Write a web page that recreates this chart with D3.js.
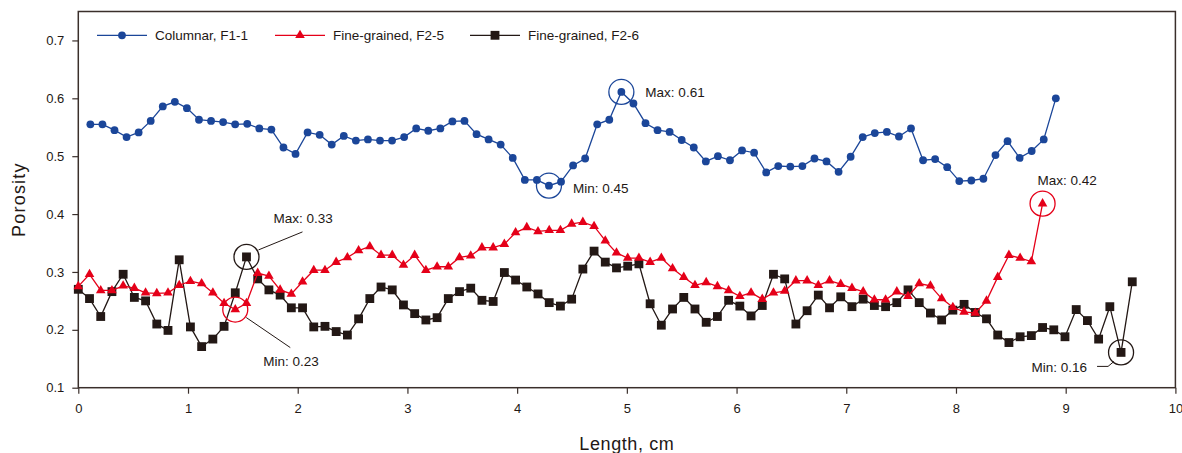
<!DOCTYPE html>
<html>
<head>
<meta charset="utf-8">
<script src="https://cdn.jsdelivr.net/npm/d3@7"></script>
<style>
  body { margin: 0; background: #fff; }
  text { font-family: "Liberation Sans", Arial, sans-serif; fill: #231815; }
</style>
</head>
<body>
<svg id="chart" width="1182" height="453"></svg>
<script>
// porosity, one value per sample
const columnarF11 = [
  0.555, 0.555, 0.545, 0.533, 0.541, 0.561, 0.586, 0.594, 0.583, 0.563,
  0.561, 0.559, 0.555, 0.556, 0.548, 0.546, 0.515, 0.504, 0.541, 0.537,
  0.520, 0.535, 0.527, 0.529, 0.527, 0.527, 0.533, 0.548, 0.544, 0.548,
  0.560, 0.561, 0.538, 0.529, 0.520, 0.497, 0.459, 0.459, 0.449, 0.456,
  0.484, 0.496, 0.555, 0.563, 0.611, 0.591, 0.557, 0.545, 0.542, 0.528,
  0.515, 0.491, 0.500, 0.493, 0.510, 0.506, 0.472, 0.483, 0.482, 0.483,
  0.496, 0.491, 0.473, 0.499, 0.533, 0.540, 0.542, 0.534, 0.548, 0.493,
  0.495, 0.481, 0.457, 0.458, 0.461, 0.502, 0.526, 0.497, 0.509, 0.529,
  0.600
];
const fineF25 = [
  0.275, 0.296, 0.268, 0.268, 0.276, 0.272, 0.264, 0.263, 0.264, 0.277,
  0.284, 0.280, 0.264, 0.246, 0.235, 0.246, 0.298, 0.293, 0.269, 0.262,
  0.283, 0.303, 0.303, 0.317, 0.325, 0.337, 0.344, 0.329, 0.329, 0.312,
  0.329, 0.303, 0.309, 0.309, 0.325, 0.328, 0.342, 0.342, 0.348, 0.368,
  0.377, 0.370, 0.372, 0.372, 0.383, 0.386, 0.379, 0.354, 0.333, 0.324,
  0.324, 0.317, 0.324, 0.306, 0.291, 0.277, 0.282, 0.275, 0.268, 0.258,
  0.264, 0.253, 0.264, 0.267, 0.285, 0.285, 0.277, 0.285, 0.279, 0.272,
  0.266, 0.252, 0.252, 0.266, 0.258, 0.280, 0.276, 0.254, 0.239, 0.231,
  0.229, 0.250, 0.291, 0.329, 0.324, 0.318, 0.418
];
const fineF26 = [
  0.270, 0.254, 0.223, 0.266, 0.296, 0.256, 0.250, 0.210, 0.199, 0.321,
  0.205, 0.171, 0.184, 0.206, 0.264, 0.326, 0.288, 0.269, 0.260, 0.238,
  0.238, 0.205, 0.206, 0.197, 0.191, 0.219, 0.254, 0.274, 0.269, 0.243,
  0.228, 0.217, 0.221, 0.254, 0.266, 0.272, 0.251, 0.249, 0.299, 0.286,
  0.274, 0.262, 0.247, 0.241, 0.253, 0.305, 0.336, 0.317, 0.307, 0.310,
  0.314, 0.245, 0.208, 0.236, 0.256, 0.236, 0.213, 0.223, 0.251, 0.241,
  0.224, 0.242, 0.296, 0.288, 0.210, 0.233, 0.260, 0.238, 0.257, 0.240,
  0.253, 0.242, 0.240, 0.247, 0.269, 0.247, 0.229, 0.217, 0.234, 0.244,
  0.230, 0.219, 0.191, 0.178, 0.188, 0.190, 0.204, 0.200, 0.188, 0.235,
  0.216, 0.184, 0.240, 0.161, 0.283
];
// sampling interval (cm) and position of first sample
const stepF11 = 0.11, startF11 = 0.11;
const stepF2 = 0.1022, startF2 = 0;

const seriesNames = ["Columnar, F1-1", "Fine-grained, F2-5", "Fine-grained, F2-6"];
const xTicks = [0, 1, 2, 3, 4, 5, 6, 7, 8, 9, 10];
const yTicks = [0.1, 0.2, 0.3, 0.4, 0.5, 0.6, 0.7];

const colors = ["#1b4699", "#e50019", "#231815"];
const frameColor = "#3a2f2b";

const svg = d3.select("#chart");
const x = d3.scaleLinear().domain([0, 10]).range([78.3, 1175.4]);
const y = d3.scaleLinear().domain([0.1, 0.75]).range([387.7, 11.5]);

const toPoints = (vals, start, step) => vals.map((v, i) => ({ x: start + i * step, y: v }));
const series = [
  { name: seriesNames[0], pts: toPoints(columnarF11, startF11, stepF11), color: colors[0], sym: "circle" },
  { name: seriesNames[1], pts: toPoints(fineF25, startF2, stepF2), color: colors[1], sym: d3.symbolTriangle, size: 40 },
  { name: seriesNames[2], pts: toPoints(fineF26, startF2, stepF2), color: colors[2], sym: d3.symbolSquare, size: 78 }
];

// axes + frame
const xAxis = svg.append("g")
  .attr("transform", `translate(0,${y.range()[0]})`)
  .call(d3.axisBottom(x).tickValues(xTicks).tickSize(6).tickPadding(10).tickFormat(d3.format("d")));
const yAxis = svg.append("g")
  .attr("transform", `translate(${x.range()[0]},0)`)
  .call(d3.axisLeft(y).tickValues(yTicks).tickSize(6).tickPadding(8).tickFormat(d3.format(".1f")));
[xAxis, yAxis].forEach(g => {
  g.select(".domain").remove();
  g.selectAll("line").attr("stroke", frameColor).attr("stroke-width", 1.2);
  g.selectAll("text").attr("font-size", 13).attr("fill", "#231815").style("font-family", "Liberation Sans, Arial, sans-serif");
});

svg.append("rect")
  .attr("x", x(0)).attr("y", y(0.75))
  .attr("width", x(10) - x(0)).attr("height", y(0.1) - y(0.75))
  .attr("fill", "none").attr("stroke", frameColor).attr("stroke-width", 1.5);

svg.append("text")
  .attr("transform", `translate(25,${(y(0.1) + y(0.75)) / 2}) rotate(-90)`)
  .attr("text-anchor", "middle").attr("font-size", 18).attr("letter-spacing", 1.2)
  .text("Porosity");
svg.append("text")
  .attr("x", (x(0) + x(10)) / 2).attr("y", 450)
  .attr("text-anchor", "middle").attr("font-size", 18).attr("letter-spacing", 0.6)
  .text("Length, cm");

// lines and markers
const line = d3.line().x(d => x(d.x)).y(d => y(d.y));

function drawMarker(sel, s) {
  if (s.sym === "circle") {
    sel.append("circle").attr("r", 3.9).attr("fill", s.color);
  } else {
    sel.append("path").attr("d", d3.symbol(s.sym, s.size)).attr("fill", s.color);
  }
}

// black drawn first so red and blue sit on top like the original
[series[2], series[1], series[0]].forEach(s => {
  const g = svg.append("g");
  g.append("path").datum(s.pts)
    .attr("d", line).attr("fill", "none")
    .attr("stroke", s.color).attr("stroke-width", 1.3);
  g.selectAll("g.pt").data(s.pts).enter().append("g")
    .attr("class", "pt")
    .attr("transform", d => `translate(${x(d.x)},${y(d.y)})`)
    .each(function () { drawMarker(d3.select(this), s); });
});

// legend
const legendX = [97, 275, 470];
series.forEach((s, i) => {
  const g = svg.append("g").attr("transform", `translate(${legendX[i]},35.3)`);
  g.append("line").attr("x1", 0).attr("x2", 50).attr("stroke", s.color).attr("stroke-width", 1.3);
  const m = g.append("g").attr("transform", "translate(25,0)");
  drawMarker(m, s);
  g.append("text").attr("x", 58).attr("dy", "0.35em").attr("font-size", 13.5).text(s.name);
});

// min / max call-outs
const callouts = [
  { s: 0, i: 44, text: "Max: 0.61", dx: 24, dy: 0, anchor: "start", leader: null },
  { s: 0, i: 38, text: "Min: 0.45", dx: 24, dy: 3, anchor: "start", leader: null },
  { s: 2, i: 15, text: "Max: 0.33", dx: 27, dy: -39, anchor: "start", leader: [[12, -7], [56, -25]] },
  { s: 1, i: 14, text: "Min: 0.23", dx: 28, dy: 52, anchor: "start", leader: [[11, 8], [55, 38]] },
  { s: 1, i: 86, text: "Max: 0.42", dx: -5, dy: -23, anchor: "start", leader: null },
  { s: 2, i: 93, text: "Min: 0.16", dx: -34, dy: 15, anchor: "end", leader: [[-24, 14], [-13, 14], [-7, 9]] }
];
callouts.forEach(c => {
  const s = series[c.s];
  const p = s.pts[c.i];
  const g = svg.append("g").attr("transform", `translate(${x(p.x)},${y(p.y)})`);
  g.append("circle").attr("r", 12.5).attr("fill", "none")
    .attr("stroke", s.color).attr("stroke-width", 1.3);
  if (c.leader) {
    g.append("path").attr("d", d3.line()(c.leader))
      .attr("fill", "none").attr("stroke", "#231815").attr("stroke-width", 1);
  }
  g.append("text").attr("x", c.dx).attr("y", c.dy).attr("dy", "0.35em")
    .attr("text-anchor", c.anchor).attr("font-size", 13.5).text(c.text);
});
</script>
</body>
</html>
